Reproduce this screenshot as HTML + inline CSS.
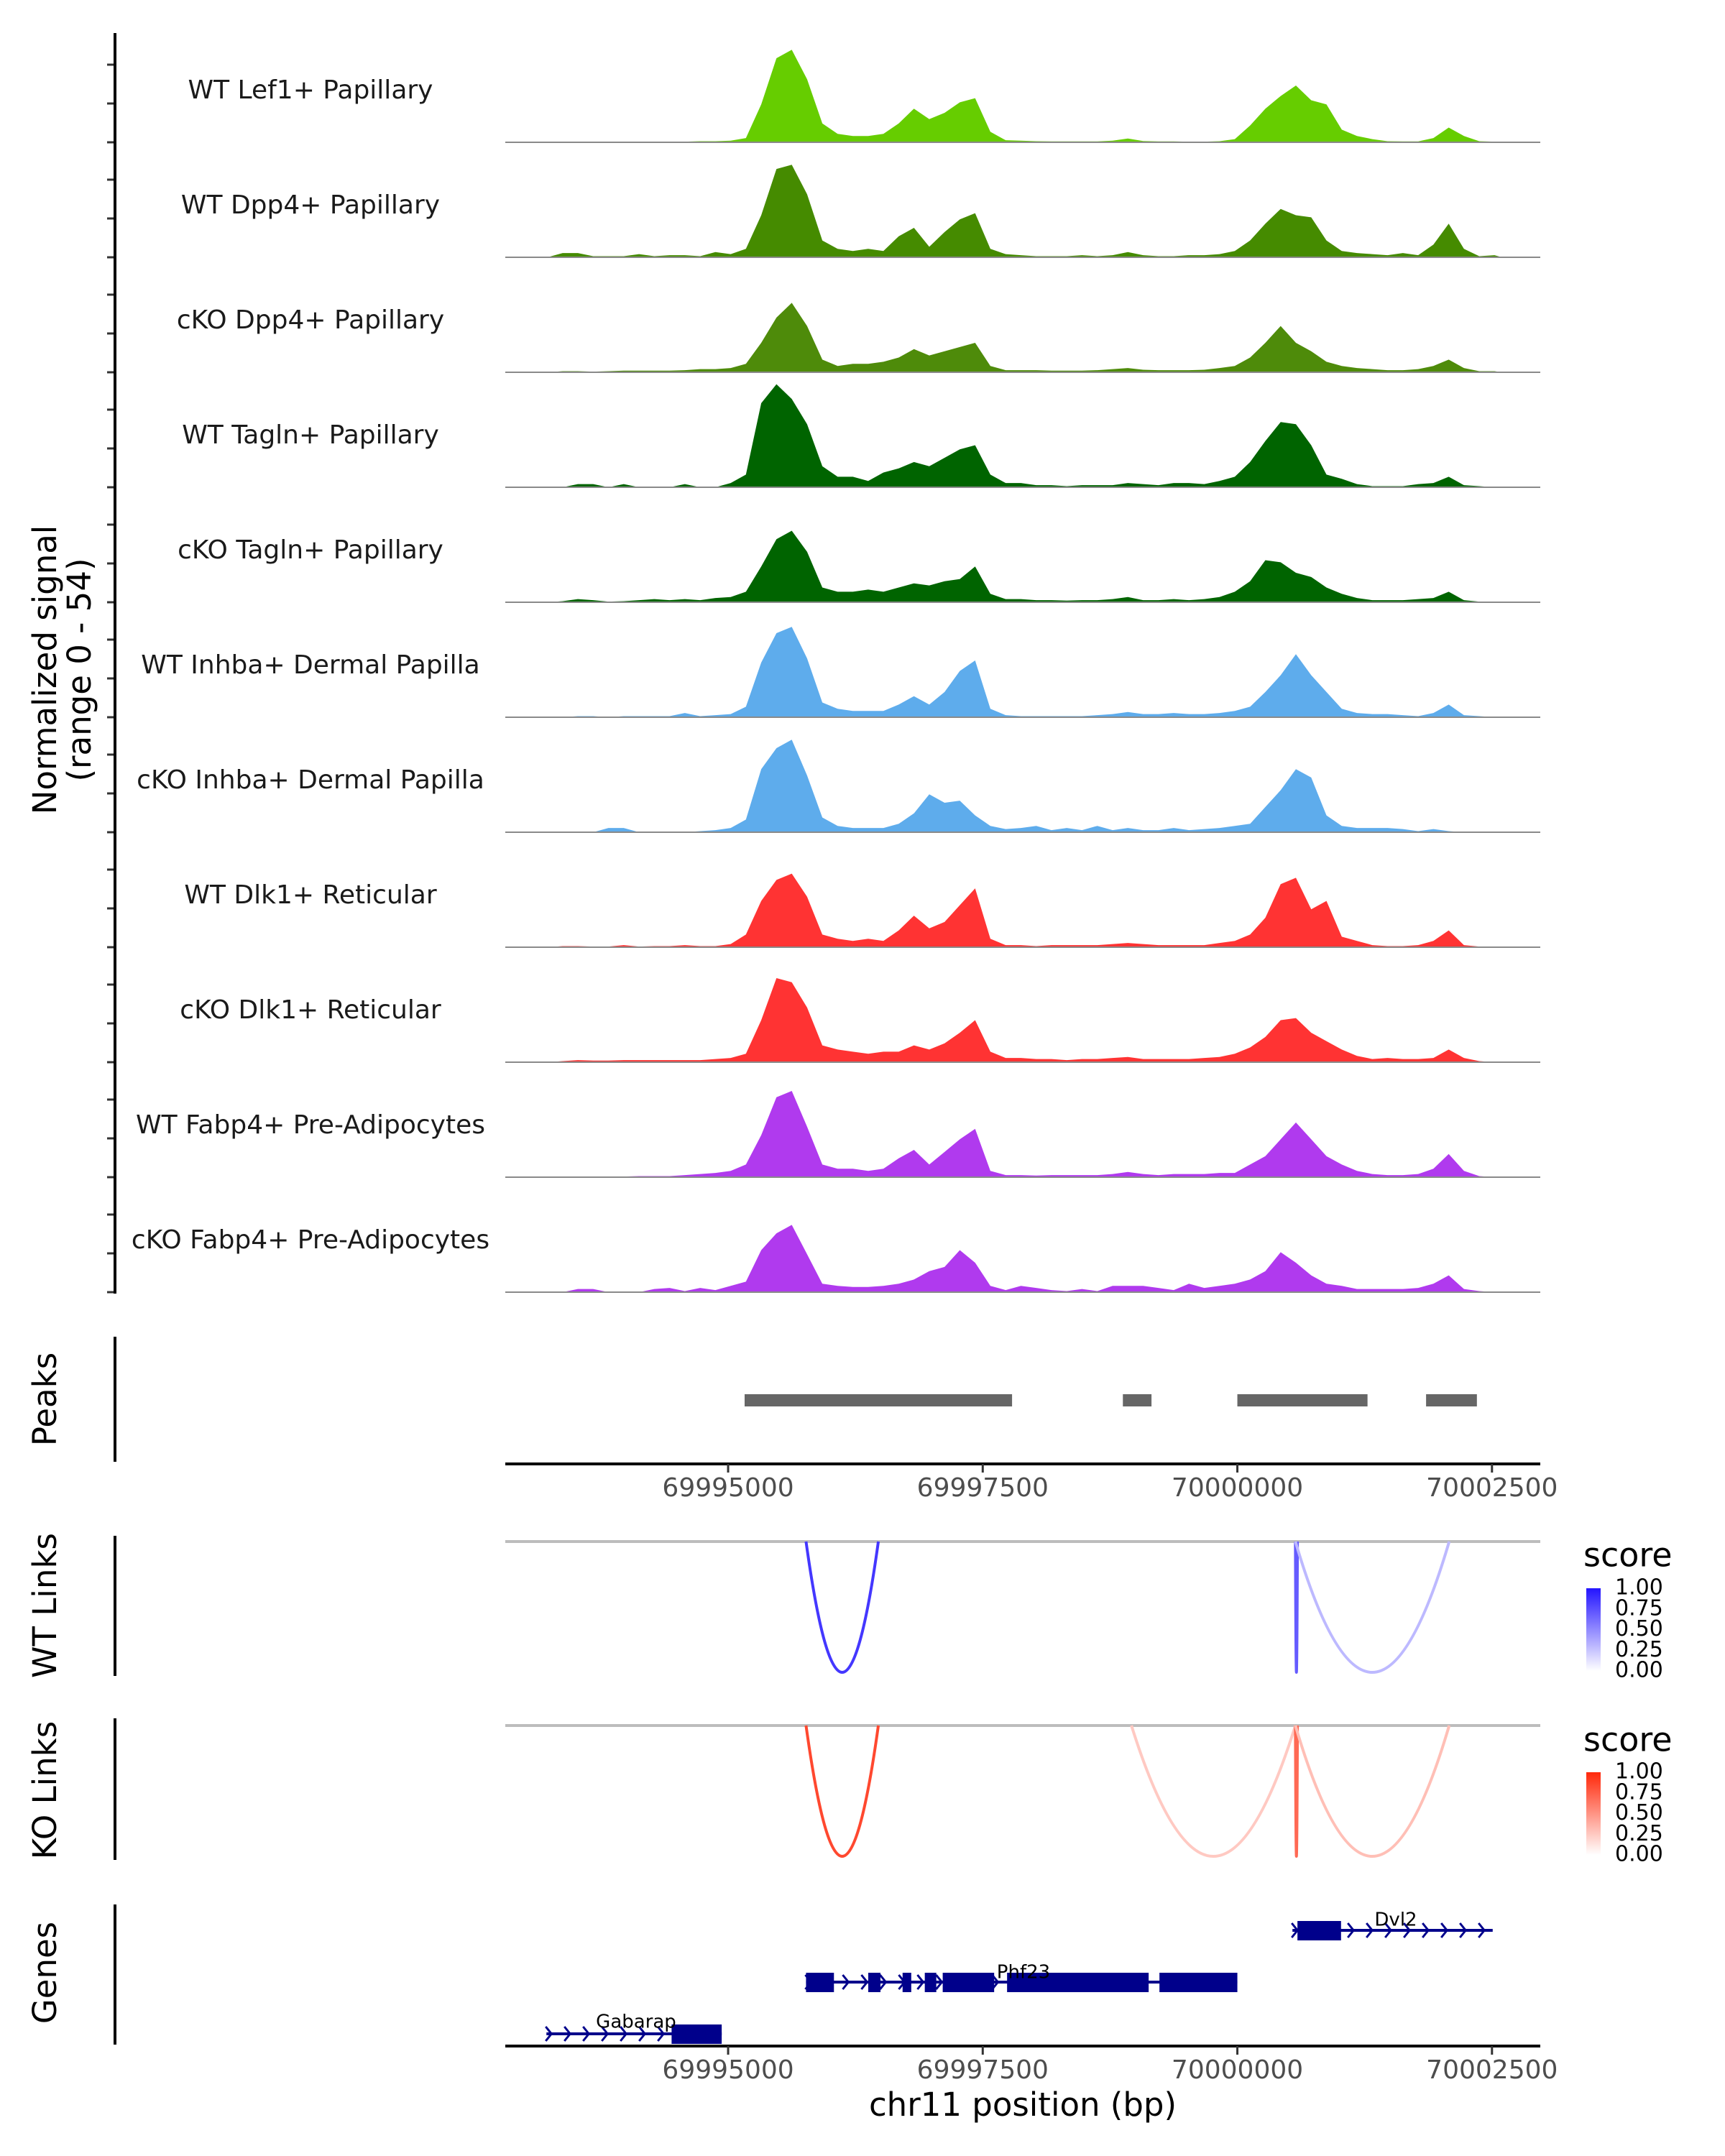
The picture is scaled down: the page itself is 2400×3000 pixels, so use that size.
<!DOCTYPE html>
<html><head><meta charset="utf-8"><title>Coverage plot chr11</title>
<style>html,body{margin:0;padding:0;background:#fff}svg{display:block}text{font-family:"DejaVu Sans","Liberation Sans",sans-serif}</style>
</head><body>
<svg id="chart" xmlns="http://www.w3.org/2000/svg" width="2400" height="3000" viewBox="0 0 2400 3000">
<rect width="2400" height="3000" fill="#fff"/>
<g id="tracks"></g>
<g id="peaks"></g>
<g id="links"></g>
<g id="genes"></g>
<g id="axes"></g>
</svg>
<script>
// ---- data ----
const binStart = 69993000;
const binWidth = 150;
const trackNames = ["WT Lef1+ Papillary","WT Dpp4+ Papillary","cKO Dpp4+ Papillary","WT Tagln+ Papillary","cKO Tagln+ Papillary","WT Inhba+ Dermal Papilla","cKO Inhba+ Dermal Papilla","WT Dlk1+ Reticular","cKO Dlk1+ Reticular","WT Fabp4+ Pre-Adipocytes","cKO Fabp4+ Pre-Adipocytes"];
const trackColors = ["#66CD00","#458B00","#4E8B0A","#006400","#006400","#5EACEC","#5EACEC","#FF3333","#FF3333","#B03AEE","#B03AEE"];
const sigLef1WT = [0,0,0,0.3,0,0.2,0.2,0.3,0.3,0.3,0.3,0.5,0.5,0.8, 2,18,40,44,30,9, 4,3,3,4,9,16,11,14,19,21,5,1, 0.8,0.5,0.4,0.4,0.4,0.4,0.8,1.8,0.6,0.4,0.4,0.3,0.3,0.5, 1.5,8,16,22,27,20,18,6,3,1.5, 0.5,0.4,0.4,2,7,3,0.5,0.3];
const sigDpp4WT = [0,0,2,2,0.5,0.5,0.5,1.5,0.5,1,1,0.5,2.5,1.5, 4,20,42,44,30,8, 4,3,4,3,10,14,5,12,18,21,4,1.5, 1,0.5,0.5,0.5,1,0.5,1,2.5,1,0.5,0.5,1,1,1.5, 3,8,16,23,20,19,8,3,2,1.5, 1,2,1,6,16,4,0.5,1];
const sigDpp4KO = [0,0,0.5,0.5,0.3,0.5,0.8,0.8,0.8,0.8,1,1.5,1.5,2, 4,14,26,33,22,6, 3,4,4,5,7,11,8,10,12,14,3,1, 1,1,0.8,0.8,0.8,1,1.5,2,1.2,1,1,1,1.2,2, 3,7,14,22,14,10,5,3,2,1.5, 1,1,1.5,3,6,2,0.5,0.5];
const sigTaglnWT = [0,0,0,1.5,1.5,0,1.5,0,0,0,1.5,0,0,2, 6,40,49,42,30,10, 5,5,3,7,9,12,10,14,18,20,6,2, 2,1,1,0.5,1,1,1,2,1.5,1,2,2,1.5,3, 5,12,22,31,30,20,6,4,1.5,0.5, 0.5,0.5,1.5,2,5,1,0.5,0];
const sigTaglnKO = [0,0,0.5,1.5,1,0.3,0.5,1,1.5,1,1.5,1,2,2.5, 5,17,30,34,24,7, 5,5,6,5,7,9,8,10,11,17,4,1.5, 1.5,1,1,0.8,1,1,1.5,2.5,1,1,1.5,1,1.5,2.5, 5,10,20,19,14,12,7,4,2,1, 1,1,1.5,2,5,1,0.3,0];
const sigInhbaWT = [0,0,0,0.5,0.5,0,0.5,0.5,0.5,0.5,2,0.5,1,1.5, 5,26,40,43,28,7, 4,3,3,3,6,10,6,12,22,27,4,1, 0.5,0.5,0.5,0.5,0.5,1,1.5,2.5,1.5,1.5,2,1.5,1.5,2, 3,5,12,20,30,20,12,4,2,1.5, 1.5,1,0.5,2,6,1,0.5,0];
const sigInhbaKO = [0,0,0,0,0,2,2,0,0,0,0,0.5,1,2, 6,30,40,44,27,7, 3,2,2,2,4,9,18,14,15,8,3,1.5, 2,3,1,2,1,3,1,2,1,1,2,1,1.5,2, 3,4,12,20,30,26,8,3,2,2, 2,1.5,0.5,1.5,0.5,0,0,0];
const sigDlk1WT = [0,0,0.5,0.5,0.3,0.3,1,0.3,0.5,0.5,1,0.5,0.5,1.5, 6,22,32,35,24,6, 4,3,4,3,8,15,9,12,20,28,4,1, 1,0.5,1,1,1,1,1.5,2,1.5,1,1,1,1,2, 3,6,14,30,33,18,22,5,3,1, 0.5,0.5,1,3,8,1,0.3,0];
const sigDlk1KO = [0,0,0.5,1,0.8,0.8,1,1,1,1,1,1,1.5,2, 4,20,40,38,26,8, 6,5,4,5,5,8,6,9,14,20,5,2, 2,1.5,1.5,1,1.5,1.5,2,2.5,1.5,1.5,1.5,1.5,2,2.5, 4,7,12,20,21,14,10,6,3,1.5, 2,1.5,1.5,2,6,2,0.5,0];
const sigFabp4WT = [0,0,0,0,0.3,0.3,0.3,0.5,0.5,0.5,1,1.5,2,3, 6,20,38,41,24,6, 4,4,3,4,9,13,6,12,18,23,3,1, 1,0.8,1,1,1,1,1.5,2.5,1.5,1,1.5,1.5,1.5,2, 2,6,10,18,26,18,10,6,3,1.5, 1,1,1.5,4,11,3,0.5,0];
const sigFabp4KO = [0,0,0,1.5,1.5,0,0,0,1.5,2,0.5,2,1,3, 5,20,28,32,18,4, 3,2.5,2.5,3,4,6,10,12,20,14,3,1, 3,2,1,0.5,1.5,0.5,3,3,3,2,1,4,2,3, 4,6,10,19,14,8,4,3,1.5,1.5, 1.5,1.5,2,4,8,1.5,0.5,0];
const signals = [sigLef1WT,sigDpp4WT,sigDpp4KO,sigTaglnWT,sigTaglnKO,sigInhbaWT,sigInhbaKO,sigDlk1WT,sigDlk1KO,sigFabp4WT,sigFabp4KO];
const peakStarts = [69995162,69998876,70000000,70001853];
const peakEnds = [69997788,69999157,70001278,70002352];
const xTicks = [69995000,69997500,70000000,70002500];
const xTickLabels = ["69995000","69997500","70000000","70002500"];
const wtLinkStarts = [69995765,70000570,70000570];
const wtLinkEnds = [69996475,70000590,70002080];
const wtLinkScores = [0.85,0.7,0.3];
const koLinkStarts = [69995765,69998960,70000570,70000570];
const koLinkEnds = [69996475,70000570,70000590,70002080];
const koLinkScores = [0.85,0.25,0.7,0.3];
const legendTickLabels = ["1.00","0.75","0.50","0.25","0.00"];
const geneNames = ["Dvl2","Phf23","Gabarap"];
const geneStarts = [70000541,69995765,69993216];
const geneEnds = [70002507,70000000,69994937];
const geneExons = [[[70000590,70001018]],[[69995765,69996039],[69996376,69996496],[69996713,69996798],[69996931,69997044],[69997107,69997612],[69997739,69999129],[69999235,70000000]],[[69994445,69994937]]];

// ---- scales ----
const X0 = 703, X1 = 2143, BP0 = 69992812, PXBP = 0.1417;
const x = bp => X0 + (bp - BP0) * PXBP;
const YMAX = 54, TRACK_H = 158;
const NS = "http://www.w3.org/2000/svg";
function mk(tag, attrs, parent, text){const e=document.createElementNS(NS,tag);for(const k in attrs)e.setAttribute(k,attrs[k]);if(text!==undefined)e.textContent=text;parent.appendChild(e);return e;}
const gT=document.getElementById('tracks'), gP=document.getElementById('peaks'), gL=document.getElementById('links'), gG=document.getElementById('genes'), gA=document.getElementById('axes');

// ---- signal tracks ----
signals.forEach((vals,t)=>{
  const base = 198 + 160*t;
  const y = v => base - v/YMAX*TRACK_H;
  let d = `M${x(binStart).toFixed(1)},${base}`;
  vals.forEach((v,i)=>{ d += ` L${x(binStart+binWidth*i+binWidth/2).toFixed(1)},${y(v).toFixed(1)}`; });
  d += ` L${x(binStart+binWidth*vals.length).toFixed(1)},${base} Z`;
  const p = mk('path',{d:d,fill:trackColors[t]},gT);
  
  
  const bl = mk('line',{x1:X0,x2:X1,y1:base,y2:base,stroke:'#8a8a8a','stroke-width':2},gT);
  
  
  const lb = mk('text',{x:432,y:base-71,'font-size':36,fill:'#1a1a1a','text-anchor':'middle','dominant-baseline':'middle'},gT,trackNames[t]);
  
  
  for(let k=0;k<3;k++){
    const tk = mk('line',{x1:149,x2:160,y1:base-54*k,y2:base-54*k,stroke:'#333','stroke-width':3},gA);
    
    
  }
});

// ---- peaks ----
peakStarts.forEach((s,i)=>{
  const r = mk('rect',{x:x(s),y:1940,width:x(peakEnds[i])-x(s),height:17,fill:'#666'},gP);
  
  
});

// ---- x axes ----
function xAxis(yLine){
  const l = mk('line',{x1:X0,x2:X1,y1:yLine,y2:yLine,stroke:'#000','stroke-width':4},gA);
  
  
  xTicks.forEach((v,i)=>{
    const tk = mk('line',{x1:x(v),x2:x(v),y1:yLine,y2:yLine+12,stroke:'#333','stroke-width':3},gA);
    
    
    const tl = mk('text',{x:x(v),y:yLine+35,'font-size':36,fill:'#4d4d4d','text-anchor':'middle','dominant-baseline':'middle'},gA,xTickLabels[i]);
    
    
  });
}
xAxis(2037); xAxis(2847);

// ---- links ----
function mixColor(hi,s){return `rgb(${Math.round(255+(hi[0]-255)*s)},${Math.round(255+(hi[1]-255)*s)},${Math.round(255+(hi[2]-255)*s)})`;}
function linkPanel(top,bottom,starts,ends,scores,hi,name){
  const tl = mk('line',{x1:X0,x2:X1,y1:top,y2:top,stroke:'#bdbdbd','stroke-width':4},gL);
  
  
  starts.forEach((s,i)=>{
    const a=x(s), b=x(ends[i]), m=(a+b)/2, depth=bottom-top;
    const p = mk('path',{d:`M${a},${top} Q${m},${top+2*depth} ${b},${top}`,fill:'none',stroke:mixColor(hi,scores[i]),'stroke-width':4},gL);
    
    
  });
}
linkPanel(2145,2327,wtLinkStarts,wtLinkEnds,wtLinkScores,[35,20,255],'wt-link');
linkPanel(2401,2583,koLinkStarts,koLinkEnds,koLinkScores,[255,40,10],'ko-link');

// ---- legends ----
const defs = mk('defs',{},document.getElementById('chart'));
function legend(id,yTitle,barTop,hi){
  const gr = mk('linearGradient',{id:id,x1:0,y1:1,x2:0,y2:0},defs);
  mk('stop',{offset:0,'stop-color':'#fff'},gr);
  mk('stop',{offset:1,'stop-color':mixColor(hi,1)},gr);
  const t = mk('text',{x:2203,y:yTitle,'font-size':46,fill:'#000','dominant-baseline':'middle'},gL,'score');
  
  
  const r = mk('rect',{x:2207,y:barTop,width:20,height:115,fill:`url(#${id})`},gL);
  
  
  legendTickLabels.forEach((lab,i)=>{
    const yy = barTop + i*115/4;
    const tx = mk('text',{x:2247,y:yy,'font-size':30,fill:'#000','dominant-baseline':'middle'},gL,lab);
    
    
  });
}
legend('gwt',2167,2210,[35,20,255]);
legend('gko',2424,2466,[255,40,10]);

// ---- genes ----
const geneY = [2686,2758,2830];
const NAVY = '#00008B';
geneNames.forEach((g,i)=>{
  const yy = geneY[i], a=x(geneStarts[i]), b=x(geneEnds[i]);
  const ln = mk('line',{x1:a,x2:b,y1:yy,y2:yy,stroke:NAVY,'stroke-width':4},gG);
  
  
  for(let cx=a+4; cx<b; cx+=26){
    const c = mk('polyline',{points:`${cx-5},${yy-10} ${cx+3},${yy} ${cx-5},${yy+10}`,fill:'none',stroke:NAVY,'stroke-width':3},gG);
    
    
  }
  geneExons[i].forEach(ex=>{
    const r = mk('rect',{x:x(ex[0]),y:yy-13,width:x(ex[1])-x(ex[0]),height:27,fill:NAVY},gG);
    
    
  });
});
const geneLabelX = [1942,1424,885];
const geneLabelY = [2672,2745,2814];
geneNames.forEach((g,i)=>{
  const t = mk('text',{x:geneLabelX[i],y:geneLabelY[i],'font-size':26,fill:'#000','text-anchor':'middle','dominant-baseline':'middle'},gG,g);
  
  
});

// ---- left axes & titles ----
const axisSegs = [[46,1800],[1860,2034],[2137,2332],[2391,2588],[2650,2845]];
axisSegs.forEach(s=>{
  const l = mk('line',{x1:160,x2:160,y1:s[0],y2:s[1],stroke:'#000','stroke-width':4},gA);
  
  
});
function vtitle(txt,cx,cy,name){
  const t = mk('text',{x:cx,y:cy,'font-size':45,fill:'#000','text-anchor':'middle','dominant-baseline':'middle',transform:`rotate(-90 ${cx} ${cy})`},gA,txt);
  
  
}
vtitle('Normalized signal',66,932,'y-axis-title');
vtitle('(range 0 - 54)',114,932,'y-axis-subtitle');
vtitle('Peaks',66,1947,'peaks-title');
vtitle('WT Links',66,2234,'wt-links-title');
vtitle('KO Links',66,2491,'ko-links-title');
vtitle('Genes',66,2745,'genes-title');
const xt = mk('text',{x:1423,y:2932,'font-size':45,fill:'#000','text-anchor':'middle','dominant-baseline':'middle'},gA,'chr11 position (bp)');


</script>
</body></html>
